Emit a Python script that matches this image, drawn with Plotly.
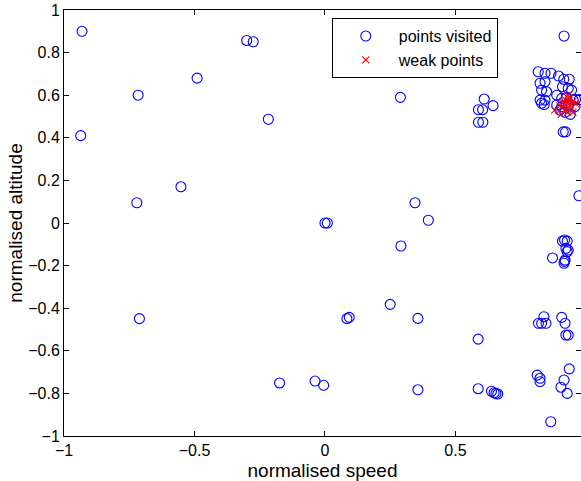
import plotly.graph_objects as go

# points visited (normalised speed, normalised altitude)
visited_speed = [
    -0.931, -0.716, -0.936, -0.49, -0.30, -0.275, -0.217, -0.552, -0.721,
    -0.711, -0.174, -0.038, -0.005,
    0.289, 0.61, 0.644, 0.588, 0.604, 0.588, 0.605,
    0.345, 0.396, 0.0, 0.009, 0.291, 0.25, 0.084, 0.093, 0.356, 0.587,
    0.356, 0.587, 0.638, 0.648, 0.655, 0.662,
    0.916,
    0.817, 0.843, 0.866, 0.824, 0.843, 0.83, 0.849, 0.824, 0.843, 0.83, 0.84,
    0.895, 0.915, 0.936, 0.91, 0.932, 0.945, 0.888, 0.907, 0.926, 0.888,
    0.907, 0.932, 0.951, 0.958, 0.92, 0.94, 0.96, 0.975, 0.90,
    0.913, 0.922,
    0.973,
    0.91, 0.918, 0.928, 0.923, 0.932, 0.928, 0.92, 0.916, 0.918, 0.872,
    0.839, 0.83, 0.847, 0.818, 0.907, 0.92, 0.923, 0.932,
    0.936, 0.813, 0.824, 0.824, 0.916, 0.904, 0.928, 0.865,
]
visited_altitude = [
    0.90, 0.60, 0.41, 0.68, 0.857, 0.851, 0.487, 0.17, 0.095,
    -0.449, -0.751, -0.742, -0.762,
    0.59, 0.582, 0.551, 0.532, 0.532, 0.473, 0.473,
    0.095, 0.013, 0.0, 0.0, -0.108, -0.382, -0.449, -0.443, -0.448, -0.545,
    -0.783, -0.778, -0.79, -0.797, -0.80, -0.803,
    0.878,
    0.71, 0.703, 0.703, 0.656, 0.663, 0.624, 0.616, 0.577, 0.577, 0.562, 0.556,
    0.69, 0.675, 0.675, 0.64, 0.632, 0.624, 0.60, 0.585, 0.59, 0.554,
    0.546, 0.554, 0.577, 0.546, 0.52, 0.51, 0.58, 0.58, 0.53,
    0.428, 0.428,
    0.128,
    -0.085, -0.08, -0.085, -0.119, -0.127, -0.135, -0.174, -0.189, -0.18, -0.164,
    -0.44, -0.471, -0.471, -0.471, -0.443, -0.471, -0.526, -0.526,
    -0.685, -0.714, -0.729, -0.745, -0.737, -0.771, -0.80, -0.933,
]

# weak points
weak_speed = [0.90, 0.91, 0.92, 0.93, 0.94, 0.92, 0.93, 0.94, 0.95, 0.91,
              0.93, 0.95, 0.88, 0.96, 0.92, 0.94, 0.905, 0.935]
weak_altitude = [0.55, 0.57, 0.58, 0.56, 0.59, 0.53, 0.52, 0.55, 0.57, 0.54,
                 0.60, 0.52, 0.53, 0.56, 0.56, 0.53, 0.51, 0.575]

x_ticks = [-1, -0.5, 0, 0.5]
y_ticks = [-1, -0.8, -0.6, -0.4, -0.2, 0, 0.2, 0.4, 0.6, 0.8, 1]

FONT = "Liberation Sans, Arial, Helvetica, sans-serif"

fig = go.Figure()
fig.add_trace(go.Scatter(
    x=visited_speed, y=visited_altitude, mode="markers", name="points visited",
    marker=dict(symbol="circle-open", size=10, color="#0000ff", line=dict(width=1.1)),
))
fig.add_trace(go.Scatter(
    x=weak_speed, y=weak_altitude, mode="markers", name="weak points",
    marker=dict(symbol="x-thin-open", size=7, color="#ff0000", line=dict(width=1.1, color="#ff0000")),
))

axis_common = dict(
    showline=True, linecolor="black", linewidth=1, mirror="ticks",
    ticks="inside", ticklen=5, tickcolor="black", tickwidth=1,
    showgrid=False, zeroline=False,
    tickfont=dict(family=FONT, size=16, color="black"),
)

fig.update_layout(
    width=581, height=481,
    margin=dict(l=64, r=0, t=10, b=45),
    paper_bgcolor="white", plot_bgcolor="white",
    font=dict(family=FONT, size=16, color="black"),
    xaxis=dict(range=[-1, 0.981], tickvals=x_ticks,
               title=dict(text="normalised speed", standoff=6), **axis_common),
    yaxis=dict(range=[-1, 1], tickvals=y_ticks,
               title=dict(text="normalised altitude", standoff=0), **axis_common),
    legend=dict(x=0.518, y=0.981, xanchor="left", yanchor="top",
                bordercolor="black", borderwidth=1, bgcolor="white",
                font=dict(family=FONT, size=16), tracegroupgap=0, itemwidth=56),
    showlegend=True,
)

fig.write_html("out.html")
